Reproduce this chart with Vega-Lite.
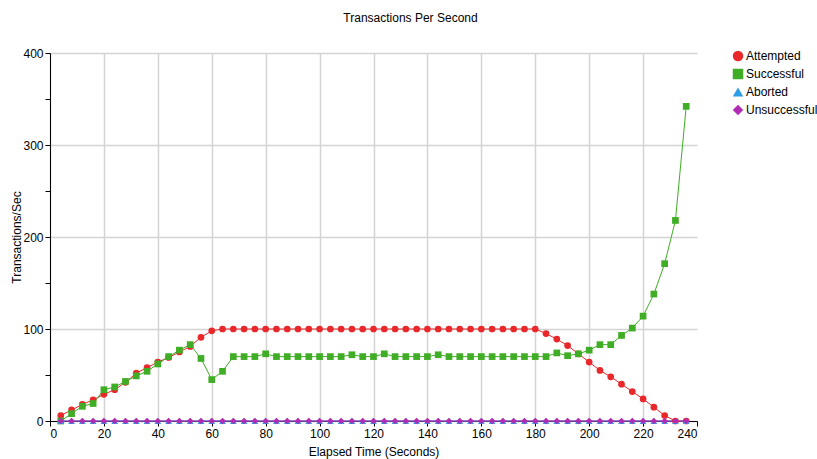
{
  "$schema": "https://vega.github.io/schema/vega-lite/v6.json",
  "width": 647,
  "height": 368,
  "autosize": {"type": "none"},
  "padding": {"left": 50, "top": 53, "right": 120, "bottom": 38},
  "background": "white",
  "title": {"text": "Transactions Per Second", "fontSize": 12, "fontWeight": "normal", "font": "Liberation Sans", "anchor": "middle", "dx": 37, "offset": 22, "color": "#000000"},
  "config": {
    "view": {"stroke": null},
    "font": "Liberation Sans",
    "axis": {"labelFont": "Liberation Sans", "titleFont": "Liberation Sans", "labelFontSize": 12, "titleFontSize": 12, "titleFontWeight": "normal", "labelColor": "#000000", "titleColor": "#000000", "domainColor": "#000000", "tickColor": "#000000", "gridColor": "#d4d4d4", "gridWidth": 1.5, "tickSize": 5}
  },
  "data": {"values": [
    {"t": 4, "Attempted": 6, "Successful": 0, "Aborted": 0, "Unsuccessful": 0},
    {"t": 8, "Attempted": 12, "Successful": 8, "Aborted": 0, "Unsuccessful": 0},
    {"t": 12, "Attempted": 18, "Successful": 16, "Aborted": 0, "Unsuccessful": 0},
    {"t": 16, "Attempted": 23, "Successful": 19, "Aborted": 0, "Unsuccessful": 0},
    {"t": 20, "Attempted": 29, "Successful": 34, "Aborted": 0, "Unsuccessful": 0},
    {"t": 24, "Attempted": 34, "Successful": 37, "Aborted": 0, "Unsuccessful": 0},
    {"t": 28, "Attempted": 42, "Successful": 43, "Aborted": 0, "Unsuccessful": 0},
    {"t": 32, "Attempted": 52, "Successful": 49, "Aborted": 0, "Unsuccessful": 0},
    {"t": 36, "Attempted": 58, "Successful": 54, "Aborted": 0, "Unsuccessful": 0},
    {"t": 40, "Attempted": 64, "Successful": 62, "Aborted": 0, "Unsuccessful": 0},
    {"t": 44, "Attempted": 69, "Successful": 70, "Aborted": 0, "Unsuccessful": 0},
    {"t": 48, "Attempted": 75, "Successful": 77, "Aborted": 0, "Unsuccessful": 0},
    {"t": 52, "Attempted": 81, "Successful": 83, "Aborted": 0, "Unsuccessful": 0},
    {"t": 56, "Attempted": 91, "Successful": 68, "Aborted": 0, "Unsuccessful": 0},
    {"t": 60, "Attempted": 98, "Successful": 45, "Aborted": 0, "Unsuccessful": 0},
    {"t": 64, "Attempted": 100, "Successful": 54, "Aborted": 0, "Unsuccessful": 0},
    {"t": 68, "Attempted": 100, "Successful": 70, "Aborted": 0, "Unsuccessful": 0},
    {"t": 72, "Attempted": 100, "Successful": 70, "Aborted": 0, "Unsuccessful": 0},
    {"t": 76, "Attempted": 100, "Successful": 70, "Aborted": 0, "Unsuccessful": 0},
    {"t": 80, "Attempted": 100, "Successful": 73, "Aborted": 0, "Unsuccessful": 0},
    {"t": 84, "Attempted": 100, "Successful": 70, "Aborted": 0, "Unsuccessful": 0},
    {"t": 88, "Attempted": 100, "Successful": 70, "Aborted": 0, "Unsuccessful": 0},
    {"t": 92, "Attempted": 100, "Successful": 70, "Aborted": 0, "Unsuccessful": 0},
    {"t": 96, "Attempted": 100, "Successful": 70, "Aborted": 0, "Unsuccessful": 0},
    {"t": 100, "Attempted": 100, "Successful": 70, "Aborted": 0, "Unsuccessful": 0},
    {"t": 104, "Attempted": 100, "Successful": 70, "Aborted": 0, "Unsuccessful": 0},
    {"t": 108, "Attempted": 100, "Successful": 70, "Aborted": 0, "Unsuccessful": 0},
    {"t": 112, "Attempted": 100, "Successful": 72, "Aborted": 0, "Unsuccessful": 0},
    {"t": 116, "Attempted": 100, "Successful": 70, "Aborted": 0, "Unsuccessful": 0},
    {"t": 120, "Attempted": 100, "Successful": 70, "Aborted": 0, "Unsuccessful": 0},
    {"t": 124, "Attempted": 100, "Successful": 73, "Aborted": 0, "Unsuccessful": 0},
    {"t": 128, "Attempted": 100, "Successful": 70, "Aborted": 0, "Unsuccessful": 0},
    {"t": 132, "Attempted": 100, "Successful": 70, "Aborted": 0, "Unsuccessful": 0},
    {"t": 136, "Attempted": 100, "Successful": 70, "Aborted": 0, "Unsuccessful": 0},
    {"t": 140, "Attempted": 100, "Successful": 70, "Aborted": 0, "Unsuccessful": 0},
    {"t": 144, "Attempted": 100, "Successful": 72, "Aborted": 0, "Unsuccessful": 0},
    {"t": 148, "Attempted": 100, "Successful": 70, "Aborted": 0, "Unsuccessful": 0},
    {"t": 152, "Attempted": 100, "Successful": 70, "Aborted": 0, "Unsuccessful": 0},
    {"t": 156, "Attempted": 100, "Successful": 70, "Aborted": 0, "Unsuccessful": 0},
    {"t": 160, "Attempted": 100, "Successful": 70, "Aborted": 0, "Unsuccessful": 0},
    {"t": 164, "Attempted": 100, "Successful": 70, "Aborted": 0, "Unsuccessful": 0},
    {"t": 168, "Attempted": 100, "Successful": 70, "Aborted": 0, "Unsuccessful": 0},
    {"t": 172, "Attempted": 100, "Successful": 70, "Aborted": 0, "Unsuccessful": 0},
    {"t": 176, "Attempted": 100, "Successful": 70, "Aborted": 0, "Unsuccessful": 0},
    {"t": 180, "Attempted": 100, "Successful": 70, "Aborted": 0, "Unsuccessful": 0},
    {"t": 184, "Attempted": 95, "Successful": 70, "Aborted": 0, "Unsuccessful": 0},
    {"t": 188, "Attempted": 89, "Successful": 74, "Aborted": 0, "Unsuccessful": 0},
    {"t": 192, "Attempted": 82, "Successful": 71, "Aborted": 0, "Unsuccessful": 0},
    {"t": 196, "Attempted": 73, "Successful": 73, "Aborted": 0, "Unsuccessful": 0},
    {"t": 200, "Attempted": 64, "Successful": 77, "Aborted": 0, "Unsuccessful": 0},
    {"t": 204, "Attempted": 55, "Successful": 83, "Aborted": 0, "Unsuccessful": 0},
    {"t": 208, "Attempted": 48, "Successful": 83, "Aborted": 0, "Unsuccessful": 0},
    {"t": 212, "Attempted": 40, "Successful": 93, "Aborted": 0, "Unsuccessful": 0},
    {"t": 216, "Attempted": 32, "Successful": 101, "Aborted": 0, "Unsuccessful": 0},
    {"t": 220, "Attempted": 24, "Successful": 114, "Aborted": 0, "Unsuccessful": 0},
    {"t": 224, "Attempted": 15, "Successful": 138, "Aborted": 0, "Unsuccessful": 0},
    {"t": 228, "Attempted": 6, "Successful": 171, "Aborted": 0, "Unsuccessful": 0},
    {"t": 232, "Attempted": 0, "Successful": 218, "Aborted": 0, "Unsuccessful": 0},
    {"t": 236, "Attempted": 0, "Successful": 342, "Aborted": 0, "Unsuccessful": 0}
  ]},
  "transform": [
    {"fold": ["Attempted", "Successful", "Aborted", "Unsuccessful"], "as": ["series", "value"]}
  ],
  "encoding": {
    "x": {"field": "t", "type": "quantitative", "scale": {"domain": [0, 240], "nice": false},
      "axis": {"title": "Elapsed Time (Seconds)", "values": [0, 20, 40, 60, 80, 100, 120, 140, 160, 180, 200, 220, 240], "labelPadding": 2, "titlePadding": 7,
        "gridOpacity": {"condition": {"test": "datum.value >= 240", "value": 0}, "value": 1}}},
    "y": {"field": "value", "type": "quantitative", "scale": {"domain": [0, 400], "nice": false},
      "axis": {"title": "Transactions/Sec", "values": [0, 50, 100, 150, 200, 250, 300, 350, 400], "labelPadding": 2, "titlePadding": -1,
        "labelExpr": "datum.value % 100 == 0 ? datum.label : ''",
        "gridOpacity": {"condition": {"test": "datum.value % 100 == 0", "value": 1}, "value": 0}}},
    "color": {"field": "series", "type": "nominal",
      "scale": {"domain": ["Attempted", "Successful", "Aborted", "Unsuccessful"], "range": ["#e8282b", "#40ad26", "#2f9de6", "#b02cb2"]},
      "legend": {"title": null, "orient": "none", "legendX": 682, "legendY": -3, "labelFontSize": 12, "labelFont": "Liberation Sans", "labelColor": "#000000", "symbolSize": 110, "symbolOpacity": 1, "rowPadding": 6, "labelOffset": 2, "symbolStrokeWidth": 0}}
  },
  "layer": [
    {"mark": {"type": "line", "strokeWidth": 1}, "encoding": {"detail": {"field": "series"}}},
    {"mark": {"type": "point", "filled": true, "opacity": 1, "size": 45},
      "encoding": {"shape": {"field": "series", "type": "nominal",
        "scale": {"domain": ["Attempted", "Successful", "Aborted", "Unsuccessful"], "range": ["circle", "square", "triangle-up", "diamond"]},
        "legend": {"title": null, "orient": "none", "legendX": 682, "legendY": -3, "labelFontSize": 12, "labelFont": "Liberation Sans", "labelColor": "#000000", "symbolSize": 110, "symbolOpacity": 1, "rowPadding": 6, "labelOffset": 2, "symbolStrokeWidth": 0}}}}
  ]
}
